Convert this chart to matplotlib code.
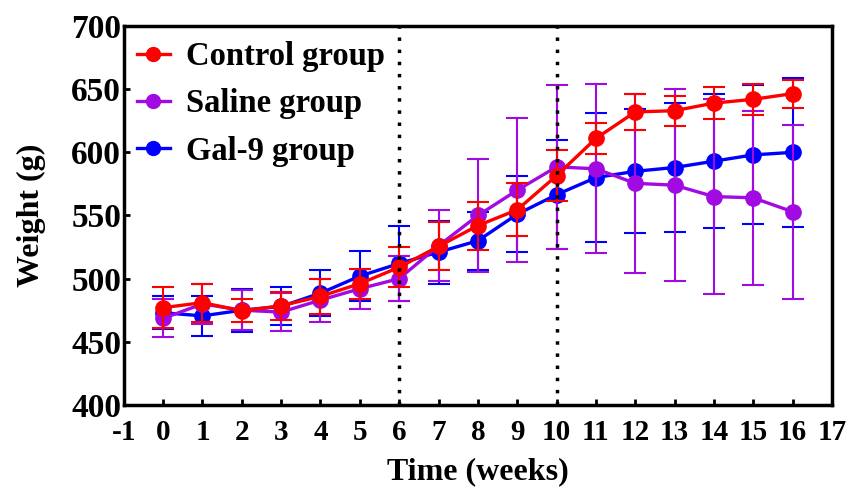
import matplotlib
matplotlib.use("Agg")
import matplotlib.pyplot as plt
from matplotlib.lines import Line2D

weeks = list(range(17))
control = [477, 481, 474.5, 478.5, 486, 496, 509, 525.5, 542, 554.5, 581.5, 611, 632, 633, 639, 642, 646.5]
control_sd = [16, 15, 9, 11, 14, 12, 16, 19, 19, 21, 20, 12, 14, 12, 12.5, 12.5, 11]
saline = [468.5, 480, 475, 473.5, 483, 492, 500, 526, 550, 570, 588.5, 587, 575.5, 574, 565, 564, 553]
saline_sd = [15, 16, 16, 15, 17, 16, 18, 28, 45, 57, 65, 67, 71, 76, 77, 69, 69]
gal9 = [473, 470.5, 475, 478, 488.5, 502, 512, 521, 530, 551, 566.5, 580, 585, 588, 593, 598, 600]
gal9_sd = [13, 16, 17, 15, 18, 20, 30, 25, 23, 30, 43, 51, 49, 51, 53, 55, 59]
vlines = [6, 10]
xticks = list(range(-1, 18))
yticks = [400, 450, 500, 550, 600, 650, 700]
labels = ['Control group', 'Saline group', 'Gal-9 group']

plt.rcParams['font.family'] = ['Liberation Serif', 'DejaVu Serif']
plt.rcParams['font.weight'] = 'bold'
plt.rcParams['axes.unicode_minus'] = False

fig = plt.figure(figsize=(8.48, 4.92), dpi=100)
ax = fig.add_axes([0.146, 0.177, 0.835, 0.770])

RED = '#FF0000'
PURPLE = '#A20AE2'
BLUE = '#0000FF'

series = [
    (gal9, gal9_sd, BLUE, 2),
    (saline, saline_sd, PURPLE, 3),
    (control, control_sd, RED, 4),
]
for y, sd, c, z in series:
    ax.errorbar(weeks, y, yerr=sd, color=c, ecolor=c, lw=2.4, elinewidth=1.5,
                capsize=8, capthick=1.5, marker='o', markersize=11, zorder=z)

for v in vlines:
    ax.axvline(v, color='black', ls=(0, (1, 2.5)), lw=2.5, zorder=6)

ax.set_xlim(-1, 17)
ax.set_ylim(400, 700)
ax.set_xticks(xticks)
ax.set_yticks(yticks)
ax.tick_params(axis='x', direction='in', length=4, width=2, labelsize=21, pad=10)
ax.tick_params(axis='y', direction='in', length=4, width=2, labelsize=24, pad=2)
for s in ax.spines.values():
    s.set_linewidth(2.5)

ax.set_xlabel('Time (weeks)', fontsize=23, fontweight='bold', labelpad=8)
ax.set_ylabel('Weight (g)', fontsize=23, fontweight='bold', labelpad=18)

leg_handles = [Line2D([], [], color=c, lw=2.4, marker='o', markersize=10)
               for c in (RED, PURPLE, BLUE)]
ax.legend(leg_handles, labels,
          loc='upper left', frameon=False, fontsize=23.5, handlelength=1.0,
          handletextpad=0.5, labelspacing=0.5, borderaxespad=0.0,
          bbox_to_anchor=(0.0, 0.995))

fig.savefig('out.png', dpi=100)
